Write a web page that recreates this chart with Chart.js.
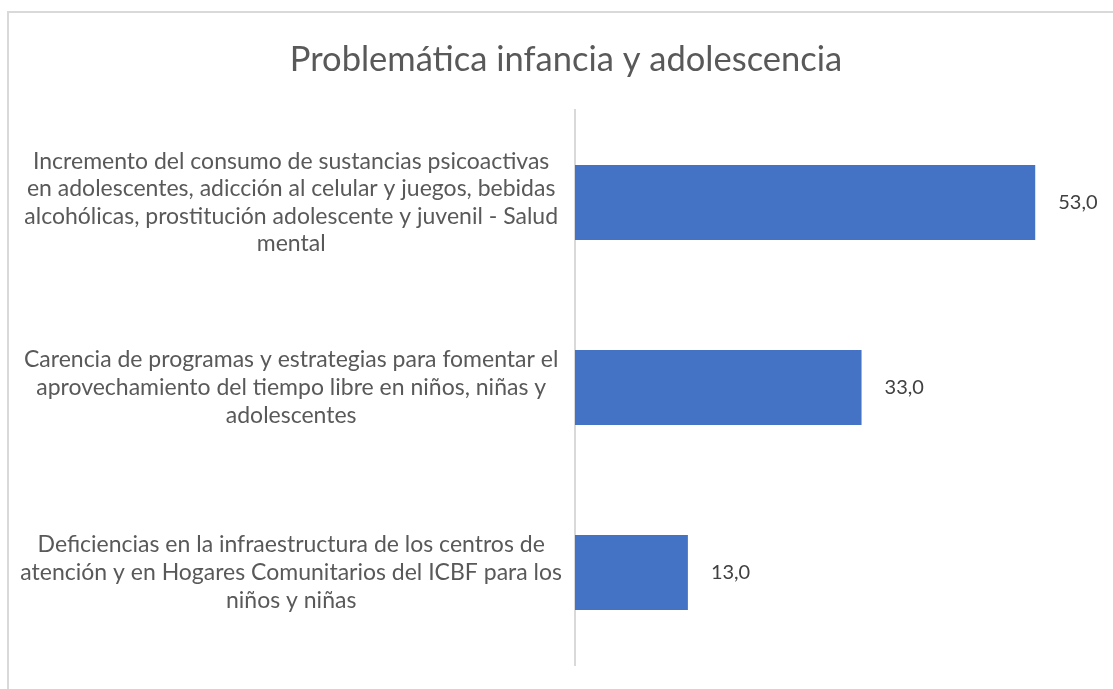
<!DOCTYPE html>
<html lang="es">
<head>
  <meta charset="UTF-8">
  <title>Problemática infancia y adolescencia</title>
  <style>
    * { box-sizing: border-box; }
    html, body { margin: 0; padding: 0; background: #fff; overflow: hidden; }
    .frame {
      position: absolute;
      left: 7px;
      top: 11px;
      width: 1200px;
      height: 800px;
      border: 2px solid #d9d9d9;
    }
    .chart-box {
      position: absolute;
      left: 0;
      top: 0;
      width: 1113px;
      height: 689px;
    }
  </style>
</head>
<body>
<div class="frame"></div>
<div class="chart-box">
  <canvas id="chart"></canvas>
</div>

<script src="https://cdn.jsdelivr.net/npm/chart.js"></script>
<script>
  const chartTitle = 'Problemática infancia y adolescencia';

  const categories = [
    ['Incremento del consumo de sustancias psicoactivas',
     'en adolescentes, adicción al celular y juegos, bebidas',
     'alcohólicas, prostitución adolescente y juvenil - Salud',
     'mental'],
    ['Carencia de programas y estrategias para fomentar el',
     'aprovechamiento del tiempo libre en niños, niñas y',
     'adolescentes'],
    ['Deficiencias en la infraestructura de los centros de',
     'atención y en Hogares Comunitarios del ICBF para los',
     'niños y niñas']
  ];

  const values = [53, 33, 13];

  const fontFamily = 'Lato, "Open Sans", sans-serif';

  // draws "53,0" style labels to the right of each bar
  const valueLabels = {
    id: 'valueLabels',
    afterDatasetsDraw(chart) {
      const ctx = chart.ctx;
      const meta = chart.getDatasetMeta(0);
      ctx.save();
      ctx.font = '20px ' + fontFamily;
      ctx.fillStyle = '#404040';
      ctx.textAlign = 'left';
      ctx.textBaseline = 'middle';
      meta.data.forEach((bar, i) => {
        const txt = values[i].toFixed(1).replace('.', ',');
        ctx.fillText(txt, bar.x + 23, bar.y);
      });
      ctx.restore();
    }
  };

  // the left padding is only there to center the title like Excel does;
  // widen the y axis box again so its labels are not clipped
  const unclipLabels = {
    id: 'unclipLabels',
    afterLayout(chart) {
      chart.scales.y.left = 0;
    }
  };

  new Chart(document.getElementById('chart'), {
    type: 'bar',
    data: {
      labels: categories,
      datasets: [{
        data: values,
        backgroundColor: '#4472c4',
        borderWidth: 0,
        barPercentage: 0.405,
        categoryPercentage: 1.0
      }]
    },
    options: {
      indexAxis: 'y',
      responsive: true,
      maintainAspectRatio: false,
      animation: false,
      layout: { padding: { left: 36, right: 17, top: 10, bottom: 24 } },
      plugins: {
        legend: { display: false },
        tooltip: { enabled: false },
        title: {
          display: true,
          text: chartTitle,
          color: '#595959',
          font: { family: fontFamily, size: 34.5, weight: 'normal', lineHeight: 1.2 },
          padding: { top: 29, bottom: 29.6 }
        }
      },
      scales: {
        x: {
          display: false,
          min: 0,
          max: 60
        },
        y: {
          afterFit(scale) {
            scale.width = 539;
            // keep the long labels from squeezing the plot area
            scale.paddingTop = 0;
            scale.paddingBottom = 0;
          },
          grid: { display: false, drawTicks: false },
          border: { display: true, color: '#d9d9d9', width: 2 },
          ticks: {
            color: '#595959',
            crossAlign: 'center',
            padding: 13,
            font: { family: fontFamily, size: 23, lineHeight: 1.2 }
          }
        }
      }
    },
    plugins: [valueLabels, unclipLabels]
  });
</script>
</body>
</html>
